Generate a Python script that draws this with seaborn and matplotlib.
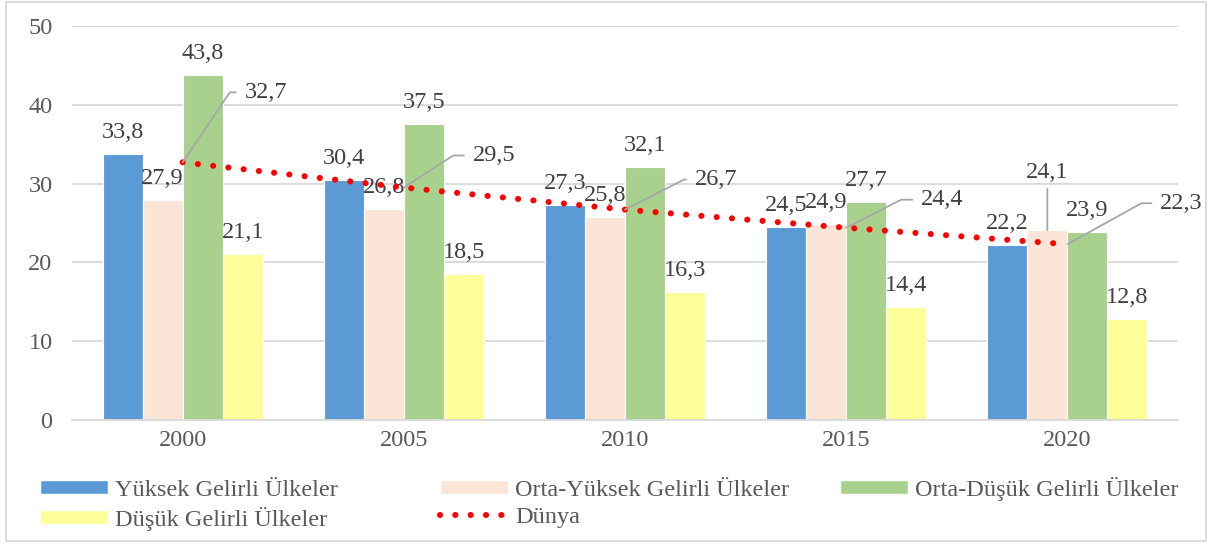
import numpy as np
import pandas as pd
import matplotlib
matplotlib.use("Agg")
import matplotlib.pyplot as plt
from matplotlib.patches import Patch, Rectangle
from matplotlib.lines import Line2D
import seaborn as sns

# Data
years = ["2000", "2005", "2010", "2015", "2020"]
series = ["Yüksek Gelirli Ülkeler", "Orta-Yüksek Gelirli Ülkeler",
          "Orta-Düşük Gelirli Ülkeler", "Düşük Gelirli Ülkeler"]
yuksek = [33.8, 30.4, 27.3, 24.5, 22.2]
orta_yuksek = [27.9, 26.8, 25.8, 24.9, 24.1]
orta_dusuk = [43.8, 37.5, 32.1, 27.7, 23.9]
dusuk = [21.1, 18.5, 16.3, 14.4, 12.8]
dunya = [32.7, 29.5, 26.7, 24.4, 22.3]
dunya_label = "Dünya"

colors = ["#5B9BD5", "#FBE5D6", "#A9D18E", "#FFFF99"]
text_col = "#404040"

sns.set_style("white")
plt.rcParams["font.family"] = ["Liberation Serif", "DejaVu Serif"]
FS = 17.5

df = pd.DataFrame({
    "year": np.tile(years, 4),
    "value": yuksek + orta_yuksek + orta_dusuk + dusuk,
    "series": np.repeat(series, len(years)),
})

fig = plt.figure(figsize=(12.11, 5.45), dpi=100)
ax = fig.add_axes([0.0595, 0.2294, 0.9132, 0.7229])

sns.barplot(data=df, x="year", y="value", hue="series", hue_order=series,
            palette=colors, saturation=1, width=0.724, edgecolor="white",
            linewidth=0.8, legend=False, ax=ax, zorder=2)

dots = (0, (0.01, 2.5))
sns.lineplot(x=np.arange(len(years)), y=dunya, color="red", lw=4.4,
             linestyle=dots, dash_capstyle="round", ax=ax, zorder=4)

ax.set_xlim(-0.5, 4.5)
ax.set_ylim(0, 50)
ax.set_yticks(range(0, 51, 10))
ax.yaxis.grid(True, color="#D9D9D9", lw=1.3)
ax.set_axisbelow(True)
for s in ["left", "right", "top"]:
    ax.spines[s].set_visible(False)
ax.spines["bottom"].set_color("#D9D9D9")
ax.spines["bottom"].set_linewidth(1.3)
ax.tick_params(axis="y", length=0, pad=14, labelsize=FS, labelcolor="#595959")
ax.tick_params(axis="x", length=0, pad=7, labelsize=FS, labelcolor="#595959")
ax.set_xlabel("")
ax.set_ylabel("")

# bar value labels
for ci, cont in enumerate(ax.containers):
    for bi, bar in enumerate(cont):
        h = bar.get_height()
        xc = bar.get_x() + bar.get_width() / 2
        txt = f"{h:.1f}".replace(".", ",")
        if ci == 1 and bi == 4:
            ax.annotate(txt, (xc, h), xytext=(0, 58), textcoords="offset pixels",
                        ha="center", va="center", fontsize=FS, color=text_col,
                        arrowprops=dict(arrowstyle="-", color="#A6A6A6", lw=1.3,
                                        shrinkA=2, shrinkB=0))
        else:
            ax.annotate(txt, (xc, h), xytext=(0, 11), textcoords="offset pixels",
                        ha="center", va="bottom", fontsize=FS, color=text_col)

# world line labels with leader lines
offs = [(62, 70, 56), (69, 32, 33), (70, 30, 27), (75, 28, 27), (93, 41, 29)]
for i, v in enumerate(dunya):
    dx, dy, ang = offs[i]
    ax.annotate(f"{v:.1f}".replace(".", ","), (i, v), xytext=(dx, dy),
                textcoords="offset pixels", ha="left", va="center",
                fontsize=FS, color=text_col, zorder=5,
                arrowprops=dict(arrowstyle="-", color="#A6A6A6", lw=1.3,
                                relpos=(0, 0.5), shrinkA=4, shrinkB=0,
                                connectionstyle=f"angle,angleA=0,angleB={ang},rad=0"))

# legend, one per column to get Excel-like spacing
h_y = Patch(facecolor=colors[0], label=series[0])
h_oy = Patch(facecolor=colors[1], label=series[1])
h_od = Patch(facecolor=colors[2], label=series[2])
h_d = Patch(facecolor=colors[3], label=series[3])
h_w = Line2D([], [], color="red", lw=4.4, linestyle=dots,
             dash_capstyle="round", label=dunya_label)
cols = [([h_y, h_d], 0.033, 0.12), ([h_oy, h_w], 0.3633, 0.12),
        ([h_od], 0.6937, 0.1255)]
for hs, x, y in cols:
    fig.legend(handles=hs, loc="upper left", bbox_to_anchor=(x, y),
               frameon=False, fontsize=FS, labelcolor="#595959",
               handlelength=2.8, handleheight=0.5, handletextpad=0.3,
               labelspacing=0.25, borderpad=0, borderaxespad=0)

fig.patches.append(Rectangle((0.005, 0.007), 0.991, 0.99, transform=fig.transFigure,
                             fill=False, edgecolor="#D9D9D9", lw=1.3))

fig.savefig("out.png", dpi=100)
